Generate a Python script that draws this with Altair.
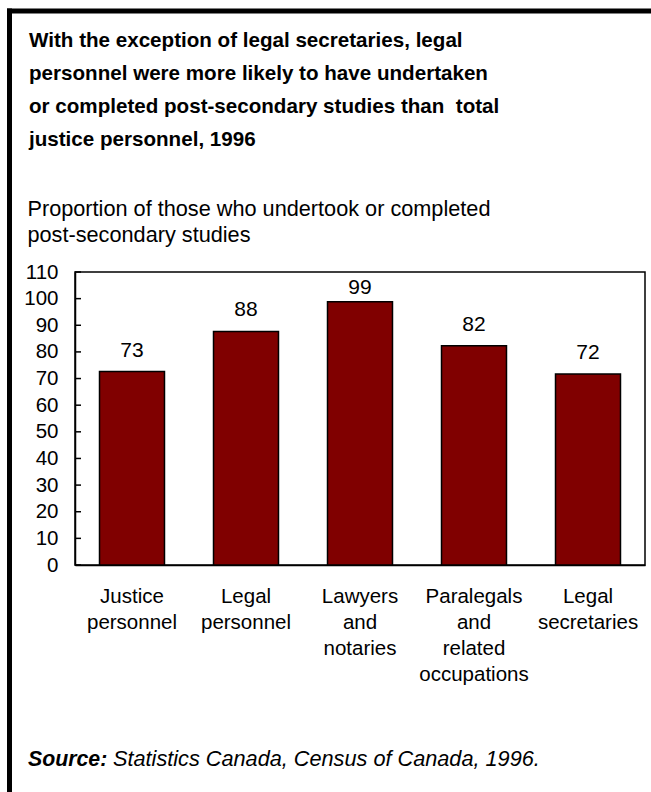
import altair as alt
import pandas as pd

categories = [
    "Justice personnel",
    "Legal personnel",
    "Lawyers and notaries",
    "Paralegals and related occupations",
    "Legal secretaries",
]
values = [72.6, 87.7, 98.8, 82.3, 71.7]
value_labels = ["73", "88", "99", "82", "72"]
y_ticks = [0, 10, 20, 30, 40, 50, 60, 70, 80, 90, 100, 110]

title_lines = [
    "With the exception of legal secretaries, legal",
    "personnel were more likely to have undertaken",
    "or completed post-secondary studies than\u00a0 total",
    "justice personnel, 1996",
]
y_title_lines = [
    "Proportion of those who undertook or completed",
    "post-secondary studies",
]
source_label = "Source:"
source_text = "Statistics Canada, Census of Canada, 1996."

FONT = "Liberation Sans"
BAR = "#800000"

df = pd.DataFrame({"category": categories, "value": values, "label": value_labels})
ticks_df = pd.DataFrame({"tick": y_ticks})
one = pd.DataFrame({"k": [0]})

x_axis = alt.Axis(
    title=None,
    labelExpr="split(datum.label, ' ')",
    labelAngle=0,
    ticks=False,
    domainColor="black",
    domainWidth=1.5,
    labelFont=FONT,
    labelFontSize=20.5,
    labelLineHeight=26,
    labelPadding=21,
    labelColor="black",
    labelLimit=0,
    labelOverlap=False,
    labelBound=False,
)
x_scale = alt.Scale(paddingInner=0.43, paddingOuter=0.215)

y_axis = alt.Axis(
    values=y_ticks,
    ticks=False,
    grid=False,
    domainColor="black",
    domainWidth=1.5,
    labelFont=FONT,
    labelFontSize=20.5,
    labelColor="black",
    labelPadding=17,
    labelOverlap=False,
    labelBound=False,
    labelFlush=False,
    title=y_title_lines,
    titleFont=FONT,
    titleFontSize=21.7,
    titleFontWeight="normal",
    titleColor="black",
    titleAngle=0,
    titleAlign="left",
    titleBaseline="alphabetic",
    titleLineHeight=26,
    titleX=-48,
    titleY=-57,
)
y_scale = alt.Scale(domain=[0, 110], nice=False, zero=True)

bars = alt.Chart(df).mark_bar(color=BAR, stroke="black", strokeWidth=1.5).encode(
    x=alt.X("category:N", sort=categories, scale=x_scale, axis=x_axis),
    y=alt.Y("value:Q", scale=y_scale, axis=y_axis),
)

text = (
    alt.Chart(df)
    .transform_calculate(label_y="min(datum.value + 5.6, 101.8)")
    .mark_text(font=FONT, fontSize=21, color="black", baseline="alphabetic")
    .encode(
        x=alt.X("category:N", sort=categories, scale=x_scale, axis=x_axis),
        y=alt.Y("label_y:Q", scale=y_scale, axis=y_axis),
        text="label:N",
    )
)

tick_marks = alt.Chart(ticks_df).mark_rule(color="black", strokeWidth=1.5).encode(
    y=alt.Y("tick:Q", scale=y_scale, axis=y_axis),
    x=alt.value(0),
    x2=alt.value(6),
)

border_left = alt.Chart(one).mark_rule(color="black", strokeWidth=5).encode(
    x=alt.value(-65.5), y=alt.value(-263.5), y2=alt.value(530)
)
border_top = alt.Chart(one).mark_rule(color="black", strokeWidth=5).encode(
    x=alt.value(-68), x2=alt.value(590), y=alt.value(-261)
)

title_text = alt.Chart(one).mark_text(
    font=FONT, fontSize=20.6, fontWeight="bold", align="left",
    baseline="alphabetic", color="black", lineHeight=33
).encode(x=alt.value(-46), y=alt.value(-225), text=alt.value(title_lines))

src1 = alt.Chart(one).mark_text(
    font=FONT, fontSize=21.3, fontWeight="bold", fontStyle="italic", align="left",
    baseline="alphabetic", color="black"
).encode(x=alt.value(-47), y=alt.value(494), text=alt.value(source_label))
src2 = alt.Chart(one).mark_text(
    font=FONT, fontSize=21.7, fontStyle="italic", align="left",
    baseline="alphabetic", color="black"
).encode(x=alt.value(38), y=alt.value(494), text=alt.value(source_text))

chart = (
    alt.layer(bars, text, tick_marks, border_left, border_top, title_text, src1, src2)
    .properties(
        width=570,
        height=293,
        padding={"left": 75, "top": 272, "right": 6, "bottom": 227},
        autosize=alt.AutoSizeParams(type="none"),
        background="white",
    )
    .configure_view(stroke="black", strokeWidth=1.5)
)

chart.save("out.html", embed_options={"renderer": "svg", "actions": False})
